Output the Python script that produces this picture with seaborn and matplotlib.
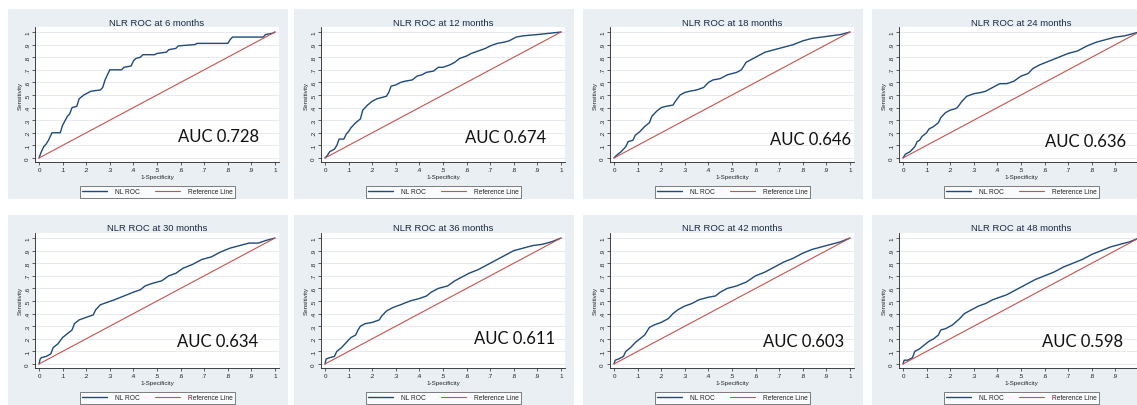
import matplotlib
matplotlib.use("Agg")
import matplotlib.pyplot as plt
from matplotlib.patches import Rectangle
import seaborn as sns

# ROC points (1-specificity, sensitivity)
fpr_6 = [0, 0.01, 0.02, 0.03, 0.04, 0.05, 0.055, 0.09, 0.10, 0.12, 0.13, 0.14, 0.16, 0.17, 0.19,
         0.21, 0.22, 0.26, 0.27, 0.28, 0.30, 0.35, 0.36, 0.39, 0.40, 0.41, 0.43, 0.44, 0.49, 0.50,
         0.54, 0.55, 0.58, 0.59, 0.66, 0.67, 0.80, 0.81, 0.82, 0.95, 0.96, 0.99, 1]
tpr_6 = [0, 0.05, 0.09, 0.11, 0.14, 0.18, 0.20, 0.20, 0.26, 0.33, 0.35, 0.40, 0.41, 0.47, 0.50,
         0.52, 0.53, 0.54, 0.56, 0.62, 0.70, 0.70, 0.72, 0.73, 0.77, 0.79, 0.80, 0.82, 0.82, 0.83,
         0.84, 0.86, 0.87, 0.89, 0.90, 0.91, 0.91, 0.94, 0.96, 0.96, 0.98, 0.99, 1]

fpr_12 = [0, 0.01, 0.02, 0.04, 0.05, 0.06, 0.08, 0.09, 0.10, 0.11, 0.13, 0.15, 0.16, 0.18, 0.20,
          0.22, 0.24, 0.26, 0.27, 0.28, 0.30, 0.32, 0.34, 0.37, 0.39, 0.41, 0.43, 0.46, 0.48, 0.50,
          0.53, 0.55, 0.57, 0.60, 0.62, 0.65, 0.68, 0.70, 0.73, 0.76, 0.78, 0.81, 0.84, 0.90, 0.95, 1]
tpr_12 = [0, 0.02, 0.05, 0.07, 0.10, 0.15, 0.15, 0.19, 0.21, 0.24, 0.28, 0.31, 0.38, 0.42, 0.45,
          0.47, 0.48, 0.49, 0.52, 0.57, 0.58, 0.60, 0.61, 0.62, 0.65, 0.66, 0.68, 0.69, 0.72, 0.72,
          0.74, 0.76, 0.79, 0.81, 0.83, 0.85, 0.87, 0.89, 0.91, 0.92, 0.93, 0.96, 0.97, 0.98, 0.99, 1]

fpr_18 = [0, 0.01, 0.03, 0.05, 0.06, 0.08, 0.09, 0.11, 0.13, 0.15, 0.16, 0.18, 0.20, 0.22, 0.25,
          0.26, 0.28, 0.30, 0.32, 0.35, 0.38, 0.40, 0.42, 0.45, 0.48, 0.52, 0.54, 0.56, 0.58, 0.61,
          0.64, 0.68, 0.72, 0.76, 0.80, 0.84, 0.88, 0.92, 0.96, 1]
tpr_18 = [0, 0.02, 0.05, 0.09, 0.13, 0.14, 0.18, 0.21, 0.25, 0.28, 0.33, 0.37, 0.40, 0.41, 0.42,
          0.45, 0.50, 0.52, 0.53, 0.54, 0.56, 0.60, 0.62, 0.63, 0.66, 0.68, 0.70, 0.76, 0.78, 0.81,
          0.84, 0.86, 0.88, 0.90, 0.93, 0.95, 0.96, 0.97, 0.98, 1]

fpr_24 = [0, 0.01, 0.03, 0.05, 0.06, 0.07, 0.08, 0.10, 0.11, 0.13, 0.15, 0.16, 0.18, 0.20, 0.22,
          0.23, 0.25, 0.27, 0.30, 0.33, 0.35, 0.38, 0.41, 0.44, 0.47, 0.50, 0.53, 0.55, 0.58, 0.62,
          0.66, 0.70, 0.74, 0.78, 0.82, 0.86, 0.90, 0.94, 1]
tpr_24 = [0, 0.03, 0.05, 0.09, 0.13, 0.14, 0.17, 0.20, 0.23, 0.25, 0.28, 0.32, 0.36, 0.38, 0.39,
          0.40, 0.45, 0.49, 0.51, 0.52, 0.53, 0.56, 0.59, 0.59, 0.61, 0.65, 0.67, 0.71, 0.74, 0.77,
          0.80, 0.83, 0.85, 0.89, 0.92, 0.94, 0.96, 0.97, 1]

fpr_30 = [0, 0.005, 0.01, 0.03, 0.05, 0.06, 0.08, 0.10, 0.12, 0.14, 0.15, 0.17, 0.20, 0.23, 0.24,
          0.26, 0.29, 0.32, 0.36, 0.40, 0.43, 0.45, 0.48, 0.52, 0.55, 0.58, 0.61, 0.65, 0.69, 0.73,
          0.77, 0.81, 0.85, 0.89, 0.93, 0.96, 1]
tpr_30 = [0, 0.04, 0.05, 0.06, 0.08, 0.13, 0.16, 0.21, 0.24, 0.27, 0.32, 0.35, 0.37, 0.39, 0.43,
          0.47, 0.49, 0.51, 0.54, 0.57, 0.59, 0.62, 0.64, 0.66, 0.70, 0.72, 0.76, 0.79, 0.83, 0.85,
          0.89, 0.92, 0.94, 0.96, 0.96, 0.98, 1]

fpr_36 = [0, 0.005, 0.02, 0.04, 0.05, 0.07, 0.09, 0.11, 0.13, 0.14, 0.15, 0.17, 0.20, 0.23, 0.24,
          0.26, 0.29, 0.32, 0.36, 0.40, 0.43, 0.45, 0.48, 0.52, 0.55, 0.58, 0.61, 0.65, 0.69, 0.72,
          0.76, 0.80, 0.84, 0.88, 0.92, 0.96, 1]
tpr_36 = [0, 0.04, 0.05, 0.06, 0.10, 0.13, 0.17, 0.21, 0.23, 0.27, 0.30, 0.32, 0.33, 0.35, 0.38,
          0.42, 0.45, 0.47, 0.50, 0.52, 0.54, 0.57, 0.60, 0.62, 0.66, 0.69, 0.72, 0.75, 0.79, 0.82,
          0.86, 0.90, 0.92, 0.94, 0.95, 0.97, 1]

fpr_42 = [0, 0.005, 0.02, 0.04, 0.05, 0.07, 0.09, 0.11, 0.13, 0.14, 0.15, 0.17, 0.20, 0.23, 0.25,
          0.27, 0.30, 0.33, 0.36, 0.40, 0.43, 0.45, 0.48, 0.52, 0.56, 0.60, 0.64, 0.68, 0.72, 0.76,
          0.80, 0.84, 0.88, 0.92, 0.96, 1]
tpr_42 = [0, 0.03, 0.04, 0.06, 0.10, 0.13, 0.17, 0.20, 0.23, 0.26, 0.29, 0.31, 0.33, 0.36, 0.40,
          0.43, 0.46, 0.48, 0.51, 0.53, 0.54, 0.57, 0.60, 0.62, 0.65, 0.70, 0.73, 0.77, 0.81, 0.84,
          0.88, 0.91, 0.93, 0.95, 0.97, 1]

fpr_48 = [0, 0.005, 0.02, 0.04, 0.05, 0.07, 0.09, 0.11, 0.13, 0.15, 0.16, 0.18, 0.21, 0.24, 0.26,
          0.29, 0.32, 0.35, 0.38, 0.41, 0.44, 0.47, 0.50, 0.53, 0.56, 0.60, 0.64, 0.68, 0.72, 0.76,
          0.80, 0.84, 0.88, 0.92, 0.96, 1]
tpr_48 = [0, 0.03, 0.03, 0.05, 0.10, 0.12, 0.15, 0.18, 0.20, 0.23, 0.27, 0.28, 0.31, 0.36, 0.40,
          0.43, 0.46, 0.48, 0.51, 0.53, 0.55, 0.58, 0.61, 0.64, 0.67, 0.70, 0.73, 0.77, 0.80, 0.83,
          0.87, 0.90, 0.93, 0.95, 0.97, 1]

months = [6, 12, 18, 24, 30, 36, 42, 48]
auc_labels = ["AUC 0.728", "AUC 0.674", "AUC 0.646", "AUC 0.636",
              "AUC 0.634", "AUC 0.611", "AUC 0.603", "AUC 0.598"]
curves = [(fpr_6, tpr_6), (fpr_12, tpr_12), (fpr_18, tpr_18), (fpr_24, tpr_24),
          (fpr_30, tpr_30), (fpr_36, tpr_36), (fpr_42, tpr_42), (fpr_48, tpr_48)]
ref_x = [0, 1]
ref_y = [0, 1]
ticks = [0, 0.1, 0.2, 0.3, 0.4, 0.5, 0.6, 0.7, 0.8, 0.9, 1]

# where the AUC text sits in data units
auc_pos = [(0.59, 0.175), (0.595, 0.17), (0.66, 0.15), (0.60, 0.135),
           (0.585, 0.18), (0.63, 0.21), (0.63, 0.18), (0.59, 0.18)]

sns.set_theme(style="white")
plt.rcParams["font.family"] = ["Liberation Sans", "DejaVu Sans"]

W, H = 1137, 406
fig = plt.figure(figsize=(W / 100, H / 100), dpi=100)
fig.patch.set_facecolor("white")

navy = "#1f4a7a"
red = "#c6534c"
bg = "#e9eff3"
col_x = [8, 294, 583, 872]
row_y = [10, 216]
pw, ph = 280, 190


def tick_fmt(v):
    if v == 0:
        return "0"
    if v == 1:
        return "1"
    return "." + str(int(round(v * 10)))


for i, m in enumerate(months):
    px = col_x[i % 4]
    py = row_y[i // 4]
    fig.patches.append(Rectangle((px / W, 1 - (py + ph) / H), pw / W, ph / H,
                                 transform=fig.transFigure, facecolor=bg,
                                 edgecolor="none", zorder=-10))
    ax = fig.add_axes([(px + 27) / W, 1 - (py + 153) / H, 244 / W, 135 / H])
    ax.set_facecolor("white")
    fx, ty = curves[i]
    sns.lineplot(x=fx, y=ty, ax=ax, color=navy, linewidth=1.0, sort=False,
                 estimator=None, label="NL ROC")
    sns.lineplot(x=ref_x, y=ref_y, ax=ax, color=red, linewidth=0.8, sort=False,
                 estimator=None, label="Reference Line")
    ax.set_xlim(-0.017, 1.017)
    ax.set_ylim(-0.032, 1.04)
    ax.set_xticks(ticks)
    ax.set_yticks(ticks)
    xlabels = [tick_fmt(t) for t in ticks]
    if i % 4 == 3:
        xlabels[-1] = ""  # falls off the right edge in the original
    ax.set_xticklabels(xlabels, fontsize=4.5)
    ax.set_yticklabels([tick_fmt(t) for t in ticks], fontsize=4.5, rotation=90, va="center")
    ax.tick_params(axis="both", length=2, width=0.5, pad=1.5, colors="#222222",
                   bottom=True, left=True)
    ax.grid(axis="y", color="#e3e8ec", linewidth=0.6)
    ax.set_axisbelow(True)
    for s in ["top", "right"]:
        ax.spines[s].set_visible(False)
    for s in ["left", "bottom"]:
        ax.spines[s].set_color("#222222")
        ax.spines[s].set_linewidth(0.6)
    ax.set_xlabel("1-Specificity", fontsize=4.5, labelpad=1.5)
    ax.set_ylabel("Sensitivity", fontsize=4.5, labelpad=2)
    ax.text(0.5, 1 + 5 / 135, f"NLR ROC at {m} months", transform=ax.transAxes,
            ha="center", va="center", fontsize=6.8, color="#1b2b44")
    ax.text(auc_pos[i][0], auc_pos[i][1], auc_labels[i], ha="left", va="center",
            fontsize=12, family=["Lato", "DejaVu Sans"], color="#111111")
    leg = ax.legend(loc="center", bbox_to_anchor=(0.502, -0.222), ncol=2, fontsize=4.8,
                    frameon=True, fancybox=False, handlelength=3.8, columnspacing=2.2,
                    borderpad=0.35, handletextpad=1.2)
    leg.get_frame().set_edgecolor("#222222")
    leg.get_frame().set_linewidth(0.5)
    leg.get_frame().set_facecolor("white")

fig.savefig("out.png", dpi=100, facecolor="white")
